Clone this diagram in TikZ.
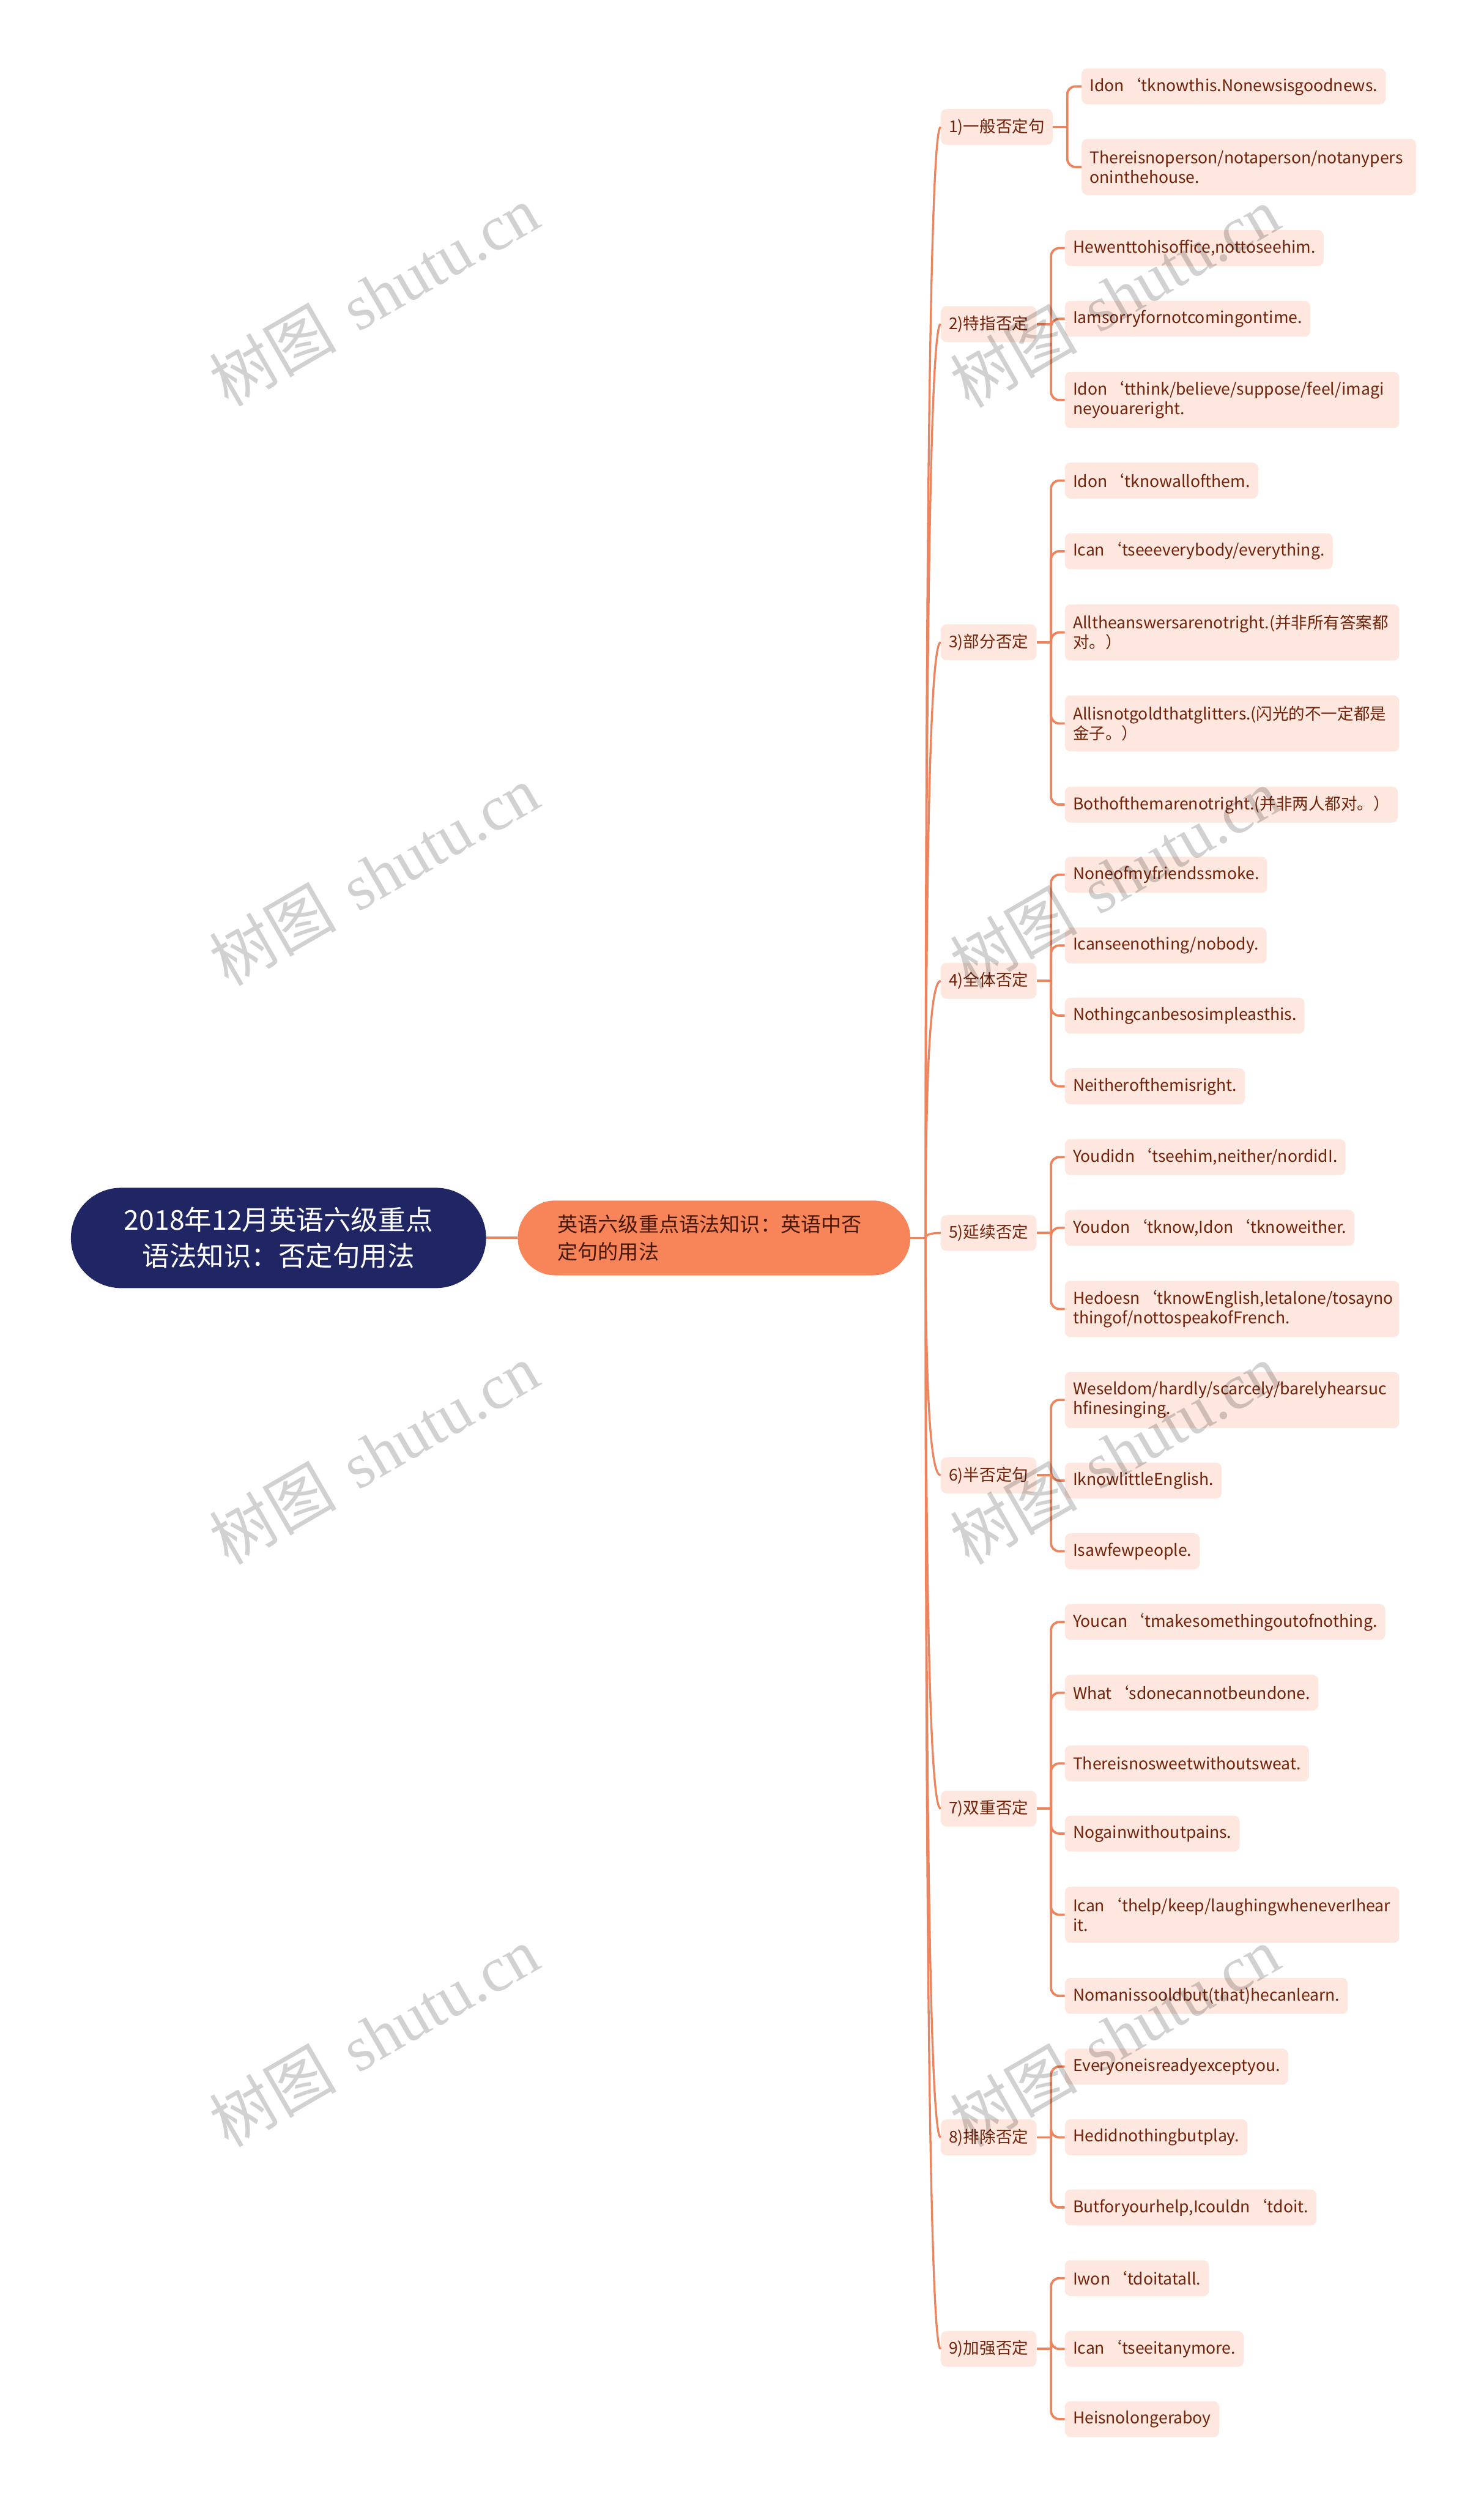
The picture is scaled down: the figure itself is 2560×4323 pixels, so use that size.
\documentclass[tikz,border=0pt]{standalone}
\usepackage{fontspec}
\setmainfont{Noto Sans CJK SC}
\newfontfamily\wmlat{Liberation Serif}
\newfontfamily\wmcjk{Noto Sans CJK SC}
\usetikzlibrary{shapes.misc,calc}
\definecolor{linec}{RGB}{238,132,94}
\definecolor{peach}{RGB}{253,231,222}
\definecolor{browntext}{RGB}{112,34,10}
\definecolor{rootc}{RGB}{32,38,100}
\definecolor{midc}{RGB}{248,132,90}
\definecolor{midtext}{RGB}{72,24,8}
\newcommand\apo{\makebox[1.05em][r]{‘}}
\tikzset{
  rootnode/.style={rounded rectangle, fill=rootc, text=white, minimum width=723pt, minimum height=173pt, align=center, font=\fontsize{47pt}{62pt}\selectfont},
  midnode/.style={rounded rectangle, fill=midc, text=midtext, minimum width=684pt, minimum height=129pt, text width=540pt, align=left, font=\fontsize{35pt}{48pt}\selectfont},
  catnode/.style={rectangle, rounded corners=10pt, fill=peach, text=browntext, anchor=west, minimum height=62pt, inner xsep=14pt, inner ysep=0pt, font=\fontsize{28pt}{34pt}\selectfont},
  leafnode/.style={rectangle, rounded corners=10pt, fill=peach, text=browntext, anchor=west, minimum height=62pt, inner xsep=14pt, inner ysep=0pt, font=\fontsize{28pt}{34pt}\selectfont},
  twoline/.style={minimum height=97pt, text width=549pt, align=left},
  conn/.style={draw=linec, line width=4pt},
  trunk/.style={draw=linec, line width=3.5pt},
  wm/.style={text=black, text opacity=0.18, rotate=30, font=\fontsize{110pt}{120pt}\selectfont}
}
\begin{document}
\begin{tikzpicture}[x=1pt,y=-1pt]
\useasboundingbox (0,0) rectangle (2560,4323);
\fill[white] (0,0) rectangle (2560,4323);

% root and main branch
\node[rootnode] (root) at (480.5,2135.5) {2018年12月英语六级重点\\语法知识：否定句用法};
\node[midnode] (mid) at (1232,2135.5) {英语六级重点语法知识：英语中否\\定句的用法};
\draw[conn] (root.east) -- (mid.west);
\coordinate (J) at (1597,2135.5);
\draw[trunk] (mid.east) -- (J);

% categories
\node[catnode] (c1) at (1623,219) {1)一般否定句};
\node[catnode] (c2) at (1623,559) {2)特指否定};
\node[catnode] (c3) at (1623,1108) {3)部分否定};
\node[catnode] (c4) at (1623,1692) {4)全体否定};
\node[catnode] (c5) at (1623,2127) {5)延续否定};
\node[catnode] (c6) at (1623,2545) {6)半否定句};
\node[catnode] (c7) at (1623,3120) {7)双重否定};
\node[catnode] (c8) at (1623,3687) {8)排除否定};
\node[catnode] (c9) at (1623,4052) {9)加强否定};

\foreach \i in {1,...,9}{
  \coordinate (k\i) at (J|-c\i.west);
  \draw[trunk] (J) .. controls ($(J)!0.6667!(k\i)$) and ($(c\i.west)!0.6667!(k\i)$) .. (c\i.west);
  \coordinate (b\i) at ($(c\i.east)+(25,0)$);
  \draw[conn] (c\i.east) -- (b\i);
}

% leaves 1
\node[leafnode] (l11) at (1866,149) {Idon\apo tknowthis.Nonewsisgoodnews.};
\node[leafnode,twoline] (l12) at (1866,288) {Thereisnoperson/notaperson/notanypers\\oninthehouse.};
% leaves 2
\node[leafnode] (l21) at (1837,428) {Hewenttohisoffice,nottoseehim.};
\node[leafnode] (l22) at (1837,550) {Iamsorryfornotcomingontime.};
\node[leafnode,twoline] (l23) at (1837,690) {Idon\apo tthink/believe/suppose/feel/imagi\\neyouareright.};
% leaves 3
\node[leafnode] (l31) at (1837,829) {Idon\apo tknowallofthem.};
\node[leafnode] (l32) at (1837,951) {Ican\apo tseeeverybody/everything.};
\node[leafnode,twoline] (l33) at (1837,1091) {Alltheanswersarenotright.(并非所有答案都\\对。）};
\node[leafnode,twoline] (l34) at (1837,1248) {Allisnotgoldthatglitters.(闪光的不一定都是\\金子。）};
\node[leafnode] (l35) at (1837,1388) {Bothofthemarenotright.(并非两人都对。）};
% leaves 4
\node[leafnode] (l41) at (1837,1509) {Noneofmyfriendssmoke.};
\node[leafnode] (l42) at (1837,1631) {Icanseenothing/nobody.};
\node[leafnode] (l43) at (1837,1752) {Nothingcanbesosimpleasthis.};
\node[leafnode] (l44) at (1837,1874) {Neitherofthemisright.};
% leaves 5
\node[leafnode] (l51) at (1837,1996) {Youdidn\apo tseehim,neither/nordidI.};
\node[leafnode] (l52) at (1837,2118) {Youdon\apo tknow,Idon\apo tknoweither.};
\node[leafnode,twoline] (l53) at (1837,2258) {Hedoesn\apo tknowEnglish,letalone/tosayno\\thingof/nottospeakofFrench.};
% leaves 6
\node[leafnode,twoline] (l61) at (1837,2415) {Weseldom/hardly/scarcely/barelyhearsuc\\hfinesinging.};
\node[leafnode] (l62) at (1837,2554) {IknowlittleEnglish.};
\node[leafnode] (l63) at (1837,2676) {Isawfewpeople.};
% leaves 7
\node[leafnode] (l71) at (1837,2798) {Youcan\apo tmakesomethingoutofnothing.};
\node[leafnode] (l72) at (1837,2920) {What\apo sdonecannotbeundone.};
\node[leafnode] (l73) at (1837,3042) {Thereisnosweetwithoutsweat.};
\node[leafnode] (l74) at (1837,3163) {Nogainwithoutpains.};
\node[leafnode,twoline] (l75) at (1837,3303) {Ican\apo thelp/keep/laughingwheneverIhear\\it.};
\node[leafnode] (l76) at (1837,3443) {Nomanissooldbut(that)hecanlearn.};
% leaves 8
\node[leafnode] (l81) at (1837,3565) {Everyoneisreadyexceptyou.};
\node[leafnode] (l82) at (1837,3687) {Hedidnothingbutplay.};
\node[leafnode] (l83) at (1837,3808) {Butforyourhelp,Icouldn\apo tdoit.};
% leaves 9
\node[leafnode] (l91) at (1837,3930) {Iwon\apo tdoitatall.};
\node[leafnode] (l92) at (1837,4052) {Ican\apo tseeitanymore.};
\node[leafnode] (l93) at (1837,4173) {Heisnolongeraboy};

% leaf connectors
\foreach \i/\n in {1/2,2/3,3/5,4/4,5/3,6/3,7/6,8/3,9/3}{
  \foreach \j in {1,...,\n}{
    \draw[conn, rounded corners=14pt] (b\i) |- (l\i\j.west);
  }
}

% watermarks
\foreach \x/\y [count=\w] in {645/510,645/1510,645/2508,645/3513,1923/512,1923/1515,1923/2508,1923/3513}{
  \node[wm] (wm\w) at (\x,\y) {{\wmcjk 树图}\hspace{0.35em}{\wmlat shutu.cn}};
}
\end{tikzpicture}
\end{document}
